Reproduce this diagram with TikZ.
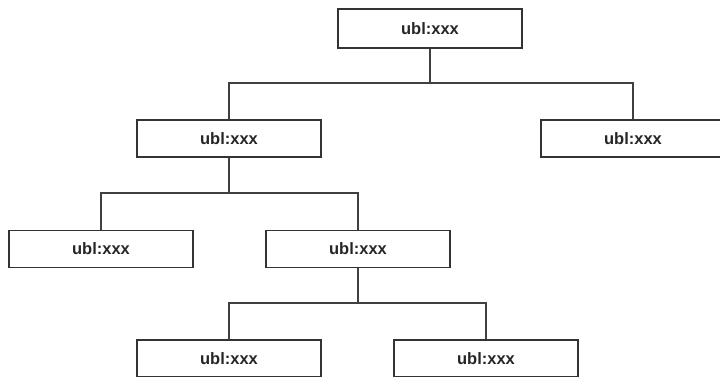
\documentclass[tikz,border=0pt]{standalone}
\usepackage{fontspec}
\setmainfont{Liberation Sans}
\begin{document}
\begin{tikzpicture}[x=1pt,y=-1pt,
  box/.style={draw=black!80, line width=1.3pt, fill=white, minimum width=184pt, minimum height=37pt, inner sep=0pt, font=\fontsize{16.5}{19}\selectfont\bfseries, text=black!85},
  conn/.style={draw=black!75, line width=1.3pt}]
\useasboundingbox (0,0) rectangle (720,376);
\node[box, minimum height=39pt] (b1) at (430,28.5) {ubl:xxx};
\node[box] (b2) at (229,138.5) {ubl:xxx};
\node[box] (b3) at (633,138.5) {ubl:xxx};
\node[box] (b4) at (101,249) {ubl:xxx};
\node[box] (b5) at (358,249) {ubl:xxx};
\node[box] (b6) at (229,358.5) {ubl:xxx};
\node[box] (b7) at (486,358.5) {ubl:xxx};
\coordinate (j1) at (430,83);
\coordinate (j2) at (229,193);
\coordinate (j3) at (358,303);
\draw[conn] (b1.south) -- (j1);
\draw[conn] (j1) -| (b2.north);
\draw[conn] (j1) -| (b3.north);
\draw[conn] (b2.south) -- (j2);
\draw[conn] (j2) -| (b4.north);
\draw[conn] (j2) -| (b5.north);
\draw[conn] (b5.south) -- (j3);
\draw[conn] (j3) -| (b6.north);
\draw[conn] (j3) -| (b7.north);
\end{tikzpicture}
\end{document}
